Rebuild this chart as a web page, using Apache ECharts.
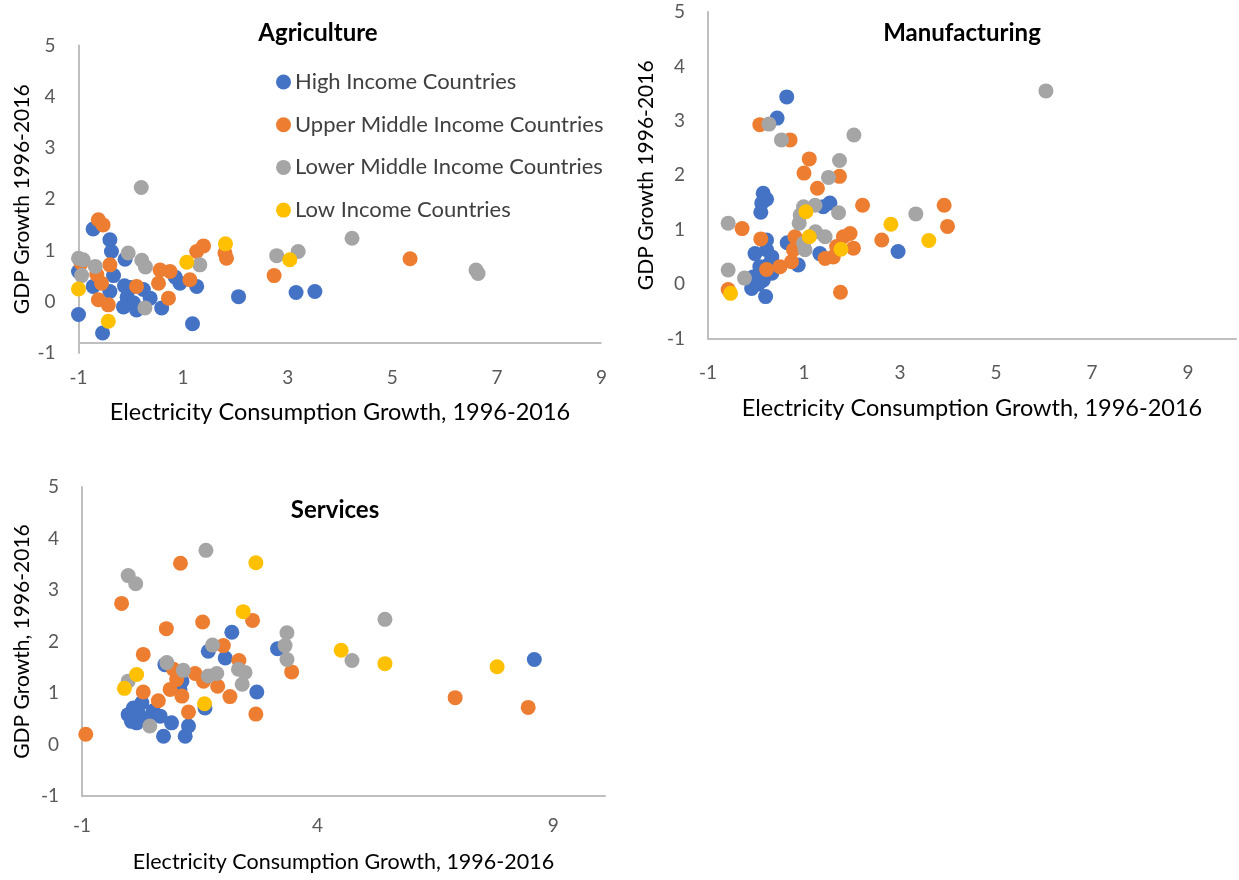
<!DOCTYPE html>
<html>
<head>
<meta charset="utf-8">
<title>GDP Growth vs Electricity Consumption Growth by Sector</title>
<script src="https://cdn.jsdelivr.net/npm/echarts@6/dist/echarts.min.js"></script>
<style>
  html, body { margin: 0; padding: 0; background: #ffffff; }
  #chart { width: 1239px; height: 880px; }
</style>
</head>
<body>
<div id="chart"></div>
<script>
// Income groups (legend order = drawing order)
const groupNames = [
  'High Income Countries',
  'Upper Middle Income Countries',
  'Lower Middle Income Countries',
  'Low Income Countries'
];
const groupColors = ['#4472C4', '#ED7D31', '#A5A5A5', '#FFC000'];

// Agriculture: [electricity consumption growth, GDP growth]
const agriHigh = [
  [-0.72, 1.42], [-0.40, 1.21], [-0.37, 0.98], [-0.11, 0.83], [-1.00, 0.59],
  [-0.33, 0.51], [-0.72, 0.30], [-0.40, 0.20], [-0.12, 0.31], [0.00, 0.28],
  [-0.07, 0.09], [0.05, -0.02], [-0.14, -0.10], [0.11, -0.16], [0.24, 0.24],
  [0.37, 0.07], [0.59, -0.12], [0.94, 0.36], [0.85, 0.48], [1.26, 0.30],
  [-1.00, -0.25], [-0.54, -0.61], [1.18, -0.43], [2.06, 0.10], [3.16, 0.18],
  [3.52, 0.20]
];
const agriUpperMiddle = [
  [-0.62, 1.60], [-0.53, 1.50], [-0.40, 0.72], [-0.65, 0.53], [-0.56, 0.36],
  [-0.95, 0.75], [-0.62, 0.04], [-0.43, -0.06], [0.11, 0.30], [0.56, 0.62],
  [0.75, 0.59], [0.53, 0.36], [0.72, 0.07], [1.13, 0.43], [1.26, 0.98],
  [1.39, 1.09], [1.80, 0.95], [1.83, 0.85], [2.74, 0.51], [5.34, 0.84]
];
const agriLowerMiddle = [
  [0.20, 2.23], [-1.00, 0.85], [-0.91, 0.82], [-0.68, 0.69], [-0.94, 0.51],
  [-0.05, 0.95], [0.21, 0.81], [0.28, 0.68], [0.27, -0.12], [1.32, 0.72],
  [2.79, 0.90], [3.20, 0.98], [4.23, 1.24], [6.60, 0.62], [6.64, 0.55]
];
const agriLow = [
  [-1.00, 0.25], [-0.43, -0.38], [1.07, 0.77], [1.81, 1.13], [3.04, 0.82]
];

// Manufacturing
const manuHigh = [
  [0.64, 3.44], [0.44, 3.05], [0.15, 1.67], [0.22, 1.56], [0.12, 1.49],
  [0.10, 1.32], [1.54, 1.49], [1.40, 1.42], [2.96, 0.60], [-0.02, 0.56],
  [0.22, 0.63], [0.33, 0.50], [0.08, 0.32], [-0.06, 0.13], [0.15, 0.07],
  [-0.09, -0.08], [0.20, -0.23], [0.33, 0.20], [0.22, 0.81], [0.65, 0.76],
  [0.88, 0.35], [1.33, 0.56], [0.05, 0.00], [0.25, 0.35]
];
const manuUpperMiddle = [
  [0.08, 2.93], [0.71, 2.65], [1.11, 2.30], [1.00, 2.04], [1.74, 1.98],
  [1.28, 1.76], [2.22, 1.45], [3.92, 1.45], [3.99, 1.06], [-0.29, 1.02],
  [0.10, 0.83], [2.62, 0.81], [0.22, 0.27], [0.50, 0.32], [0.74, 0.41],
  [0.78, 0.63], [0.81, 0.87], [-0.58, -0.10], [1.76, -0.15], [1.82, 0.87],
  [1.96, 0.93], [2.03, 0.66], [1.44, 0.47], [1.61, 0.50], [1.68, 0.69]
];
const manuLowerMiddle = [
  [0.27, 2.94], [0.53, 2.65], [2.04, 2.74], [1.74, 2.27], [1.51, 1.96],
  [0.99, 1.42], [1.23, 1.45], [1.72, 1.31], [3.33, 1.29], [-0.58, 1.12],
  [0.90, 1.12], [0.92, 1.27], [1.24, 0.96], [1.44, 0.87], [0.99, 0.75],
  [1.02, 0.63], [-0.58, 0.26], [-0.24, 0.11], [6.04, 3.55]
];
const manuLow = [
  [1.04, 1.33], [1.11, 0.87], [1.77, 0.64], [2.81, 1.10], [3.60, 0.80],
  [-0.53, -0.17]
];

// Services
const servHigh = [
  [2.18, 2.18], [1.68, 1.81], [2.04, 1.68], [3.15, 1.86], [2.71, 1.02],
  [0.76, 1.55], [0.09, 0.71], [0.27, 0.81], [0.51, 0.65], [-0.02, 0.58],
  [0.16, 0.42], [0.66, 0.55], [0.37, 0.49], [0.73, 0.16], [1.19, 0.16],
  [0.90, 0.42], [1.26, 0.36], [1.08, 1.07], [1.12, 1.23], [1.61, 0.71],
  [8.60, 1.65], [0.20, 0.60], [0.05, 0.45]
];
const servUpperMiddle = [
  [-0.92, 0.20], [-0.16, 2.74], [1.09, 3.52], [0.79, 2.25], [1.56, 2.38],
  [2.62, 2.41], [0.30, 1.75], [2.00, 1.92], [2.33, 1.63], [3.45, 1.41],
  [0.30, 1.02], [0.62, 0.85], [0.94, 1.46], [1.01, 1.26], [0.87, 1.07],
  [1.12, 0.94], [1.40, 1.38], [1.58, 1.23], [1.88, 1.13], [2.14, 0.93],
  [1.26, 0.63], [2.69, 0.59], [6.92, 0.91], [8.47, 0.72]
];
const servLowerMiddle = [
  [1.63, 3.77], [-0.02, 3.28], [0.14, 3.12], [1.77, 1.93], [0.80, 1.59],
  [1.15, 1.44], [1.68, 1.33], [1.86, 1.38], [2.32, 1.46], [2.46, 1.40],
  [2.40, 1.17], [3.35, 2.17], [3.31, 1.92], [3.35, 1.65], [-0.02, 1.23],
  [0.44, 0.36], [5.43, 2.43], [4.73, 1.63]
];
const servLow = [
  [2.69, 3.53], [2.42, 2.58], [0.16, 1.36], [-0.10, 1.09], [1.60, 0.79],
  [4.50, 1.83], [5.43, 1.57], [7.81, 1.51]
];

// Panel titles and axis titles
const panelTitles = ['Agriculture', 'Manufacturing', 'Services'];
const xAxisTitle = 'Electricity Consumption Growth, 1996-2016';
const yAxisTitles = ['GDP Growth 1996-2016', 'GDP Growth 1996-2016', 'GDP Growth, 1996-2016'];

// Axis scales per panel
const xScales = [
  { min: -1, max: 9, interval: 2 },
  { min: -1, max: 10, interval: 2 },
  { min: -1, max: 10.1, interval: 5 }
];
const yScale = { min: -1, max: 5, interval: 1 };
// The agriculture horizontal axis crosses the vertical axis above its minimum
const agriAxisCross = -0.8;

const panelData = [
  [agriHigh, agriUpperMiddle, agriLowerMiddle, agriLow],
  [manuHigh, manuUpperMiddle, manuLowerMiddle, manuLow],
  [servHigh, servUpperMiddle, servLowerMiddle, servLow]
];

const FONT = 'Lato, "Open Sans", "Liberation Sans", sans-serif';
const AXIS_GRAY = '#BFBFBF';
const LABEL_GRAY = '#595959';

const grids = [
  { left: 78.5, top: 45.5, width: 523, height: 307.5 },
  { left: 708, top: 12, width: 528, height: 326.5 },
  { left: 82, top: 487, width: 523, height: 309 }
];

const xNameGap = [47, 58, 55];
const yNameGap = [46, 51, 49];
const xLabelMargin = [15, 25, 20];
const xNameSize = [23.5, 23.5, 21.5];

const xAxes = xScales.map((s, i) => ({
  type: 'value',
  gridIndex: i,
  min: s.min, max: s.max, interval: s.interval,
  name: xAxisTitle,
  nameLocation: 'middle',
  nameGap: xNameGap[i],
  nameTextStyle: { fontFamily: FONT, fontSize: xNameSize[i], color: '#000000' },
  axisLine: { show: i !== 0, onZero: false, lineStyle: { color: AXIS_GRAY, width: 2 } },
  axisTick: { show: false },
  splitLine: { show: false },
  axisLabel: {
    fontFamily: FONT, fontSize: 19, color: LABEL_GRAY, margin: xLabelMargin[i],
    showMaxLabel: i === 0
  }
}));

const yAxes = grids.map((g, i) => ({
  type: 'value',
  gridIndex: i,
  min: yScale.min, max: yScale.max, interval: yScale.interval,
  name: yAxisTitles[i],
  nameLocation: 'middle',
  nameGap: yNameGap[i],
  nameRotate: 90,
  nameTextStyle: { fontFamily: FONT, fontSize: 21, color: '#000000' },
  axisLine: { show: true, onZero: false, lineStyle: { color: AXIS_GRAY, width: 2 } },
  axisTick: { show: false },
  splitLine: { show: false },
  axisLabel: { fontFamily: FONT, fontSize: 19, color: LABEL_GRAY, margin: 23 }
}));

const series = [];
panelData.forEach((groups, p) => {
  groups.forEach((pts, g) => {
    const s = {
      type: 'scatter',
      name: groupNames[g],
      xAxisIndex: p,
      yAxisIndex: p,
      data: pts,
      symbol: 'circle',
      symbolSize: 15,
      itemStyle: { color: groupColors[g], opacity: 1 },
      emphasis: { disabled: true },
      animation: false
    };
    if (p === 0 && g === 0) {
      s.markLine = {
        silent: true,
        symbol: 'none',
        label: { show: false },
        lineStyle: { color: AXIS_GRAY, width: 2, type: 'solid' },
        data: [{ yAxis: agriAxisCross }],
        animation: false
      };
    }
    series.push(s);
  });
});

const titleCenters = [[313, 16], [957, 16], [330, 493]];
const titles = panelTitles.map((t, i) => ({
  text: t,
  left: titleCenters[i][0],
  top: titleCenters[i][1],
  textAlign: 'center',
  textStyle: { fontFamily: FONT, fontSize: 24, fontWeight: 'bold', color: '#000000' }
}));

const chart = echarts.init(document.getElementById('chart'), null, { renderer: 'canvas' });
chart.setOption({
  animation: false,
  backgroundColor: '#ffffff',
  title: titles,
  legend: {
    data: groupNames,
    orient: 'vertical',
    left: 271,
    top: 66,
    itemWidth: 15,
    itemHeight: 15,
    itemGap: 20.7,
    icon: 'circle',
    selectedMode: false,
    textStyle: { fontFamily: FONT, fontSize: 22, color: '#404040', lineHeight: 22, padding: [0, 0, 0, -1] }
  },
  grid: grids,
  xAxis: xAxes,
  yAxis: yAxes,
  series: series
});
</script>
</body>
</html>
